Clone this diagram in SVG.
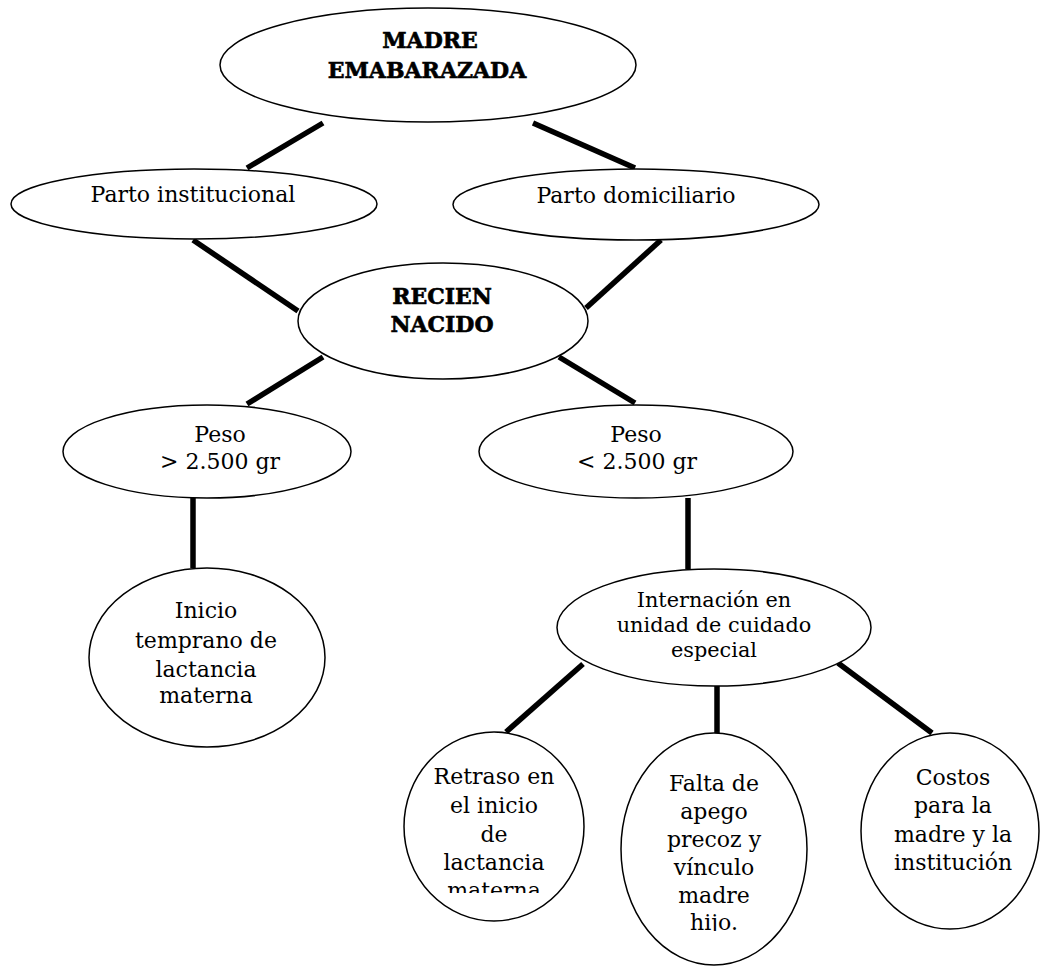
<svg xmlns="http://www.w3.org/2000/svg" width="1040" height="967" viewBox="0 0 1040 967">
<style>
  .node { fill: #ffffff; stroke: #000000; stroke-width: 1.5; }
  .conn { stroke: #000000; stroke-width: 5.5; stroke-linecap: butt; fill: none; }
  text { font-family: "DejaVu Serif", "Liberation Serif", serif; fill: #000000; text-anchor: middle; }
  .b { font-weight: bold; font-size: 22px; stroke: #000000; stroke-width: 0.6; }
  .r { font-size: 22px; }
  .s { font-size: 20.8px; }
</style>
<defs>
  <clipPath id="clipRetraso"><rect x="400" y="730" width="190" height="163"/></clipPath>
  <clipPath id="clipFalta"><rect x="615" y="730" width="200" height="201"/></clipPath>
</defs>
<rect x="0" y="0" width="1040" height="967" fill="#ffffff"/>
<g id="connectors">
  <line class="conn" x1="323" y1="123" x2="247" y2="168"/>
  <line class="conn" x1="533" y1="123" x2="635" y2="168"/>
  <line class="conn" x1="193" y1="240" x2="298" y2="311"/>
  <line class="conn" x1="661" y1="240" x2="586" y2="308"/>
  <line class="conn" x1="323" y1="357" x2="247" y2="404"/>
  <line class="conn" x1="559" y1="357" x2="635" y2="403"/>
  <line class="conn" x1="193" y1="498" x2="193" y2="568"/>
  <line class="conn" x1="688" y1="498" x2="688" y2="569"/>
  <line class="conn" x1="583" y1="664" x2="506" y2="732"/>
  <line class="conn" x1="717" y1="686" x2="717" y2="733"/>
  <line class="conn" x1="838" y1="663" x2="932" y2="733"/>
</g>
<g id="madre">
  <ellipse class="node" cx="428" cy="65" rx="208" ry="57"/>
  <text class="b" x="430" y="48">MADRE</text>
  <text class="b" x="427" y="78">EMABARAZADA</text>
</g>
<g id="parto-institucional">
  <ellipse class="node" cx="194" cy="204" rx="183" ry="35"/>
  <text class="r" x="193" y="202">Parto institucional</text>
</g>
<g id="parto-domiciliario">
  <ellipse class="node" cx="636" cy="204.5" rx="183" ry="35.5"/>
  <text class="r" x="636" y="203">Parto domiciliario</text>
</g>
<g id="recien-nacido">
  <ellipse class="node" cx="443" cy="321" rx="145" ry="58"/>
  <text class="b" x="442" y="304">RECIEN</text>
  <text class="b" x="442" y="332">NACIDO</text>
</g>
<g id="peso-mayor">
  <ellipse class="node" cx="207" cy="451.5" rx="144" ry="46.5"/>
  <text class="r" x="220" y="442">Peso</text>
  <text class="r" x="220" y="469">&gt; 2.500 gr</text>
</g>
<g id="peso-menor">
  <ellipse class="node" cx="636" cy="451.5" rx="157" ry="46.5"/>
  <text class="r" x="636" y="442">Peso</text>
  <text class="r" x="637" y="469">&lt; 2.500 gr</text>
</g>
<g id="inicio-temprano">
  <ellipse class="node" cx="207" cy="657.5" rx="118" ry="89.5"/>
  <text class="r" x="206" y="618">Inicio</text>
  <text class="r" x="206" y="648">temprano de</text>
  <text class="r" x="206" y="677">lactancia</text>
  <text class="r" x="206" y="703">materna</text>
</g>
<g id="internacion">
  <ellipse class="node" cx="714" cy="627.5" rx="157" ry="58.5"/>
  <text class="s" x="714" y="607">Internación en</text>
  <text class="s" x="714" y="632">unidad de cuidado</text>
  <text class="s" x="714" y="657">especial</text>
</g>
<g id="retraso">
  <ellipse class="node" cx="494" cy="826.5" rx="90" ry="94.5"/>
  <g clip-path="url(#clipRetraso)">
    <text class="r" x="494" y="784">Retraso en</text>
    <text class="r" x="494" y="813">el inicio</text>
    <text class="r" x="494" y="842">de</text>
    <text class="r" x="494" y="870">lactancia</text>
    <text class="r" x="494" y="898">materna</text>
  </g>
</g>
<g id="falta-apego">
  <ellipse class="node" cx="714" cy="849" rx="93" ry="116"/>
  <g clip-path="url(#clipFalta)">
    <text class="r" x="714" y="791">Falta de</text>
    <text class="r" x="714" y="819">apego</text>
    <text class="r" x="714" y="847">precoz y</text>
    <text class="r" x="714" y="875">vínculo</text>
    <text class="r" x="714" y="903">madre</text>
    <text class="r" x="714" y="930">hijo.</text>
  </g>
</g>
<g id="costos">
  <ellipse class="node" cx="950" cy="831" rx="89" ry="98"/>
  <text class="r" x="953" y="785">Costos</text>
  <text class="r" x="953" y="813">para la</text>
  <text class="r" x="953" y="842">madre y la</text>
  <text class="r" x="953" y="870">institución</text>
</g>
</svg>
